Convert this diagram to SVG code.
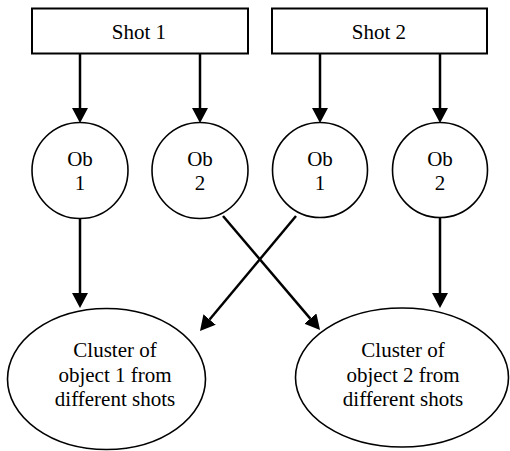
<svg xmlns="http://www.w3.org/2000/svg" width="510" height="451" viewBox="0 0 510 451">
  <defs>
    <style>
      .box { fill: #fff; stroke: #000; stroke-width: 2; }
      .node { fill: #fff; stroke: #000; stroke-width: 1.6; }
      .edge { fill: none; stroke: #000; stroke-width: 2.5; marker-end: url(#head); }
      .lbl { font-family: 'Liberation Serif', 'Times New Roman', serif; font-size: 21px; fill: #000; text-anchor: middle; }
    </style>
    <marker id="head" viewBox="0 0 15 16" refX="0" refY="8" markerWidth="15" markerHeight="16" markerUnits="userSpaceOnUse" orient="auto">
      <path d="M0,0 L15,8 L0,16 Z" fill="#000"/>
    </marker>
  </defs>
  <rect width="510" height="451" fill="#fff"/>

  <g id="shot1">
    <rect class="box" x="32" y="8.5" width="216" height="45"/>
    <text class="lbl" x="139" y="38.5">Shot 1</text>
  </g>
  <g id="shot2">
    <rect class="box" x="272" y="8.5" width="215" height="45"/>
    <text class="lbl" x="379" y="38.5">Shot 2</text>
  </g>

  <g id="s1-ob1">
    <circle class="node" cx="80" cy="170.5" r="48"/>
    <text class="lbl" x="80" y="165.5">Ob</text>
    <text class="lbl" x="80" y="190">1</text>
  </g>
  <g id="s1-ob2">
    <circle class="node" cx="200" cy="170.5" r="48"/>
    <text class="lbl" x="200" y="165.5">Ob</text>
    <text class="lbl" x="200" y="190">2</text>
  </g>
  <g id="s2-ob1">
    <circle class="node" cx="320" cy="170" r="47.5"/>
    <text class="lbl" x="320" y="165.5">Ob</text>
    <text class="lbl" x="320" y="190">1</text>
  </g>
  <g id="s2-ob2">
    <circle class="node" cx="440" cy="170" r="47.5"/>
    <text class="lbl" x="440" y="165.5">Ob</text>
    <text class="lbl" x="440" y="190">2</text>
  </g>

  <g id="cluster1">
    <ellipse class="node" cx="106.5" cy="379" rx="99" ry="70.5"/>
    <text class="lbl" x="115" y="357">Cluster of</text>
    <text class="lbl" x="115" y="381.5">object 1 from</text>
    <text class="lbl" x="115" y="405.5">different shots</text>
  </g>
  <g id="cluster2">
    <ellipse class="node" cx="402" cy="377.5" rx="106.5" ry="69.5"/>
    <text class="lbl" x="403" y="357">Cluster of</text>
    <text class="lbl" x="403" y="381.5">object 2 from</text>
    <text class="lbl" x="403" y="405.5">different shots</text>
  </g>

  <g id="connectors">
    <line class="edge" x1="80" y1="53.5" x2="80" y2="108"/>
    <line class="edge" x1="200" y1="53.5" x2="200" y2="108"/>
    <line class="edge" x1="320" y1="53.5" x2="320" y2="108"/>
    <line class="edge" x1="440" y1="53.5" x2="440" y2="108"/>
    <line class="edge" x1="80" y1="218.5" x2="80" y2="293"/>
    <line class="edge" x1="440" y1="217.5" x2="440" y2="293"/>
    <line class="edge" x1="223" y1="216" x2="310.3" y2="318.6"/>
    <line class="edge" x1="296" y1="216" x2="209.6" y2="319.5"/>
  </g>
</svg>
